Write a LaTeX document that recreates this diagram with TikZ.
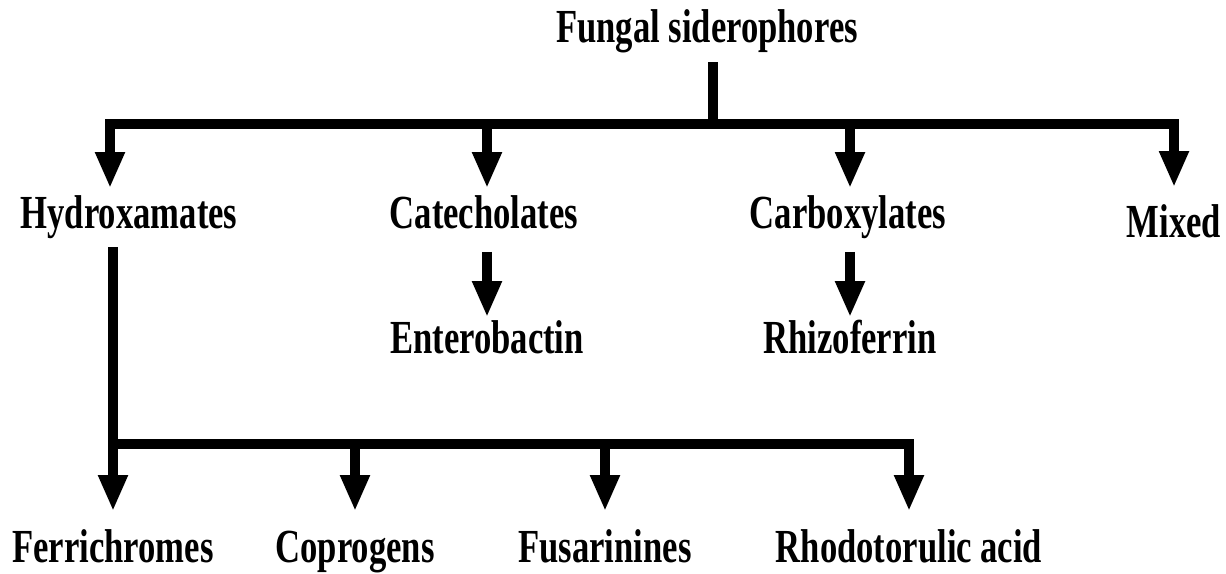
\documentclass[tikz,border=0pt]{standalone}
\usepackage{fontspec}
\setmainfont{Liberation Serif}[FakeStretch=0.73]
\usetikzlibrary{positioning,arrows.meta}

\begin{document}
\begin{tikzpicture}[x=0.02cm,y=-0.02cm,
  lbl/.style={font=\fontsize{27}{30}\selectfont\bfseries,anchor=base,inner xsep=0pt,inner ysep=0.14cm,text height=18.5pt,text depth=6pt},
  leaf/.style={lbl,inner ysep=0.36cm},
  ln/.style={line width=0.2cm,line cap=rect},
  arr/.style={line width=0.2cm,-{Triangle[length=0.72cm,width=0.55cm]}}
]
\useasboundingbox (0,0) rectangle (1226,574);
% labels
\node[lbl] (fs) at (707,43) {Fungal siderophores};
\node[lbl] (hyd) at (129,228) {Hydroxamates};
\node[lbl] (cat) at (484,228) {Catecholates};
\node[lbl] (car) at (848,228) {Carboxylates};
\node[lbl,inner ysep=0.34cm] (mix) at (1174,237) {Mixed};
\node[lbl,inner ysep=0.06cm] (ent) at (487,353) {Enterobactin};
\node[lbl,inner ysep=0.06cm] (rhi) at (850,353) {Rhizoferrin};
\node[leaf] (fer) at (113,562) {Ferrichromes};
\node[leaf] (cop) at (355,562) {Coprogens};
\node[leaf] (fus) at (605,562) {Fusarinines};
\node[leaf] (rho) at (909,562) {Rhodotorulic acid};

% top level
\coordinate (hub) at (713,124);
\coordinate (b1) at (110,124);
\coordinate (b2) at (487,124);
\coordinate (b3) at (850,124);
\coordinate (b4) at (1174,124);
\draw[ln,shorten <=0.13cm] (fs.south -| hub) -- (hub);
\draw[ln] (b1) -- (b4);
\draw[arr] (b1) -- (b1 |- hyd.north);
\draw[arr] (b2) -- (b2 |- cat.north);
\draw[arr] (b3) -- (b3 |- car.north);
\draw[arr] (b4) -- (mix);

% second level
\draw[arr,shorten <=0.12cm] (cat.south -| ent) -- (ent);
\draw[arr,shorten <=0.12cm] (car.south -| rhi) -- (rhi);

% hydroxamates
\coordinate (h1) at (113,444);
\coordinate (h4) at (909,444);
\draw[ln,shorten <=0.12cm] (hyd.south -| h1) -- (h1) -- (h4);
\draw[arr] (h1) -- (fer);
\draw[arr] (h1 -| cop) -- (cop);
\draw[arr] (h1 -| fus) -- (fus);
\draw[arr] (h4) -- (rho);
\end{tikzpicture}
\end{document}
